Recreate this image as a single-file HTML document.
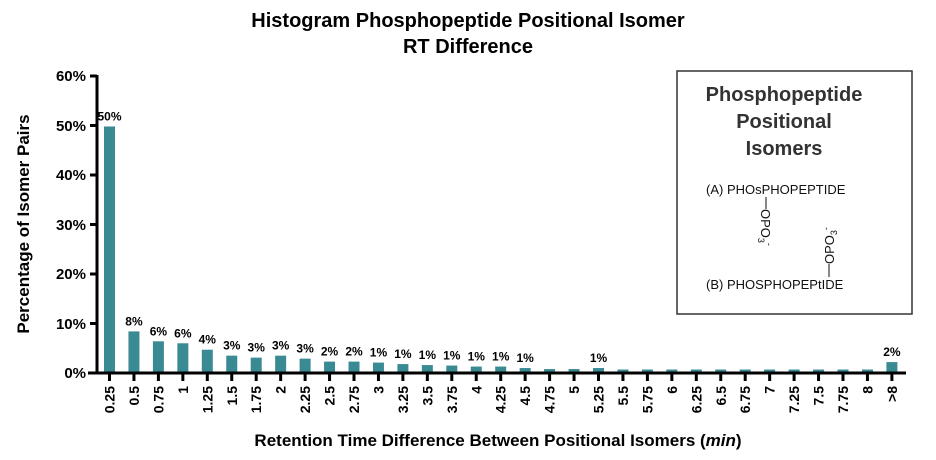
<!DOCTYPE html>
<html><head><style>body{margin:0;background:#fff}svg{display:block}text{font-family:"Liberation Sans",Arial,sans-serif}</style></head>
<body>
<svg width="936" height="460" viewBox="0 0 936 460" xmlns="http://www.w3.org/2000/svg">
<text x="468" y="27" text-anchor="middle" font-size="20" font-weight="bold">Histogram Phosphopeptide Positional Isomer</text>
<text x="468" y="53" text-anchor="middle" font-size="20" font-weight="bold">RT Difference</text>
<text transform="translate(29,224) rotate(-90)" text-anchor="middle" font-size="17" font-weight="bold">Percentage of Isomer Pairs</text>
<text x="498" y="446" text-anchor="middle" font-size="17" font-weight="bold">Retention Time Difference Between Positional Isomers (<tspan font-style="italic">min</tspan>)</text>
<g font-size="15" font-weight="bold" text-anchor="end">
<text x="86" y="81">60%</text><text x="86" y="131">50%</text><text x="86" y="180">40%</text><text x="86" y="230">30%</text><text x="86" y="279">20%</text><text x="86" y="329">10%</text><text x="86" y="378">0%</text>
</g>
<g stroke="#000" stroke-width="3">
<line x1="97" y1="75" x2="97" y2="374"/>
<line x1="90" y1="76" x2="97" y2="76"/><line x1="90" y1="125.5" x2="97" y2="125.5"/><line x1="90" y1="175" x2="97" y2="175"/><line x1="90" y1="224.5" x2="97" y2="224.5"/><line x1="90" y1="274" x2="97" y2="274"/><line x1="90" y1="323.5" x2="97" y2="323.5"/>
<line x1="88" y1="373" x2="906" y2="373"/>
</g>
<g id="bars"></g>
<rect x="677" y="71" width="235" height="243" fill="none" stroke="#333" stroke-width="1.5"/>
<g text-anchor="middle" font-size="20" font-weight="bold" fill="#333">
<text x="784" y="101">Phosphopeptide</text><text x="784" y="128">Positional</text><text x="784" y="155">Isomers</text>
</g>
<g font-size="13" fill="#111">
<text x="706" y="194">(A) PHOsPHOPEPTIDE</text>
<text x="706" y="289">(B) PHOSPHOPEPtIDE</text>
<line x1="766" y1="197" x2="766" y2="209" stroke="#111"/>
<text transform="translate(761,209) rotate(90)">OPO<tspan font-size="9" dy="3">3</tspan><tspan font-size="9" dy="-8">-</tspan></text>
<line x1="829" y1="264" x2="829" y2="277" stroke="#111"/>
<text transform="translate(834,264) rotate(-90)">OPO<tspan font-size="9" dy="3">3</tspan><tspan font-size="9" dy="-8">-</tspan></text>
</g>
</svg>
<script>
var labels=["0.25","0.5","0.75","1","1.25","1.5","1.75","2","2.25","2.5","2.75","3","3.25","3.5","3.75","4","4.25","4.5","4.75","5","5.25","5.5","5.75","6","6.25","6.5","6.75","7","7.25","7.5","7.75","8",">8"];
var vals=[49.5,8.1,6.1,5.7,4.4,3.2,2.8,3.2,2.6,2,2,1.8,1.5,1.3,1.2,1.0,1.0,0.7,0.5,0.5,0.7,0.4,0.4,0.4,0.4,0.4,0.4,0.4,0.4,0.4,0.4,0.4,1.9];
var tops={0:"50%",1:"8%",2:"6%",3:"6%",4:"4%",5:"3%",6:"3%",7:"3%",8:"3%",9:"2%",10:"2%",11:"1%",12:"1%",13:"1%",14:"1%",15:"1%",16:"1%",17:"1%",20:"1%",32:"2%"};
var g=document.getElementById("bars"),s="";
for(var i=0;i<33;i++){var cx=109.5+i*24.45,h=vals[i]*4.95,y=371.5-h;
s+='<rect x="'+(cx-5.5)+'" y="'+y+'" width="11" height="'+h+'" fill="#3a8a94"/>';
s+='<line x1="'+cx+'" y1="373" x2="'+cx+'" y2="381" stroke="#000" stroke-width="3"/>';
s+='<text transform="translate('+(cx+5)+',386) rotate(-90)" text-anchor="end" font-size="14" font-weight="bold">'+labels[i].replace(">","&gt;")+'</text>';
if(tops[i])s+='<text x="'+cx+'" y="'+(y-6)+'" text-anchor="middle" font-size="12" font-weight="bold">'+tops[i]+'</text>';}
g.innerHTML=s;
</script>
</body></html>
